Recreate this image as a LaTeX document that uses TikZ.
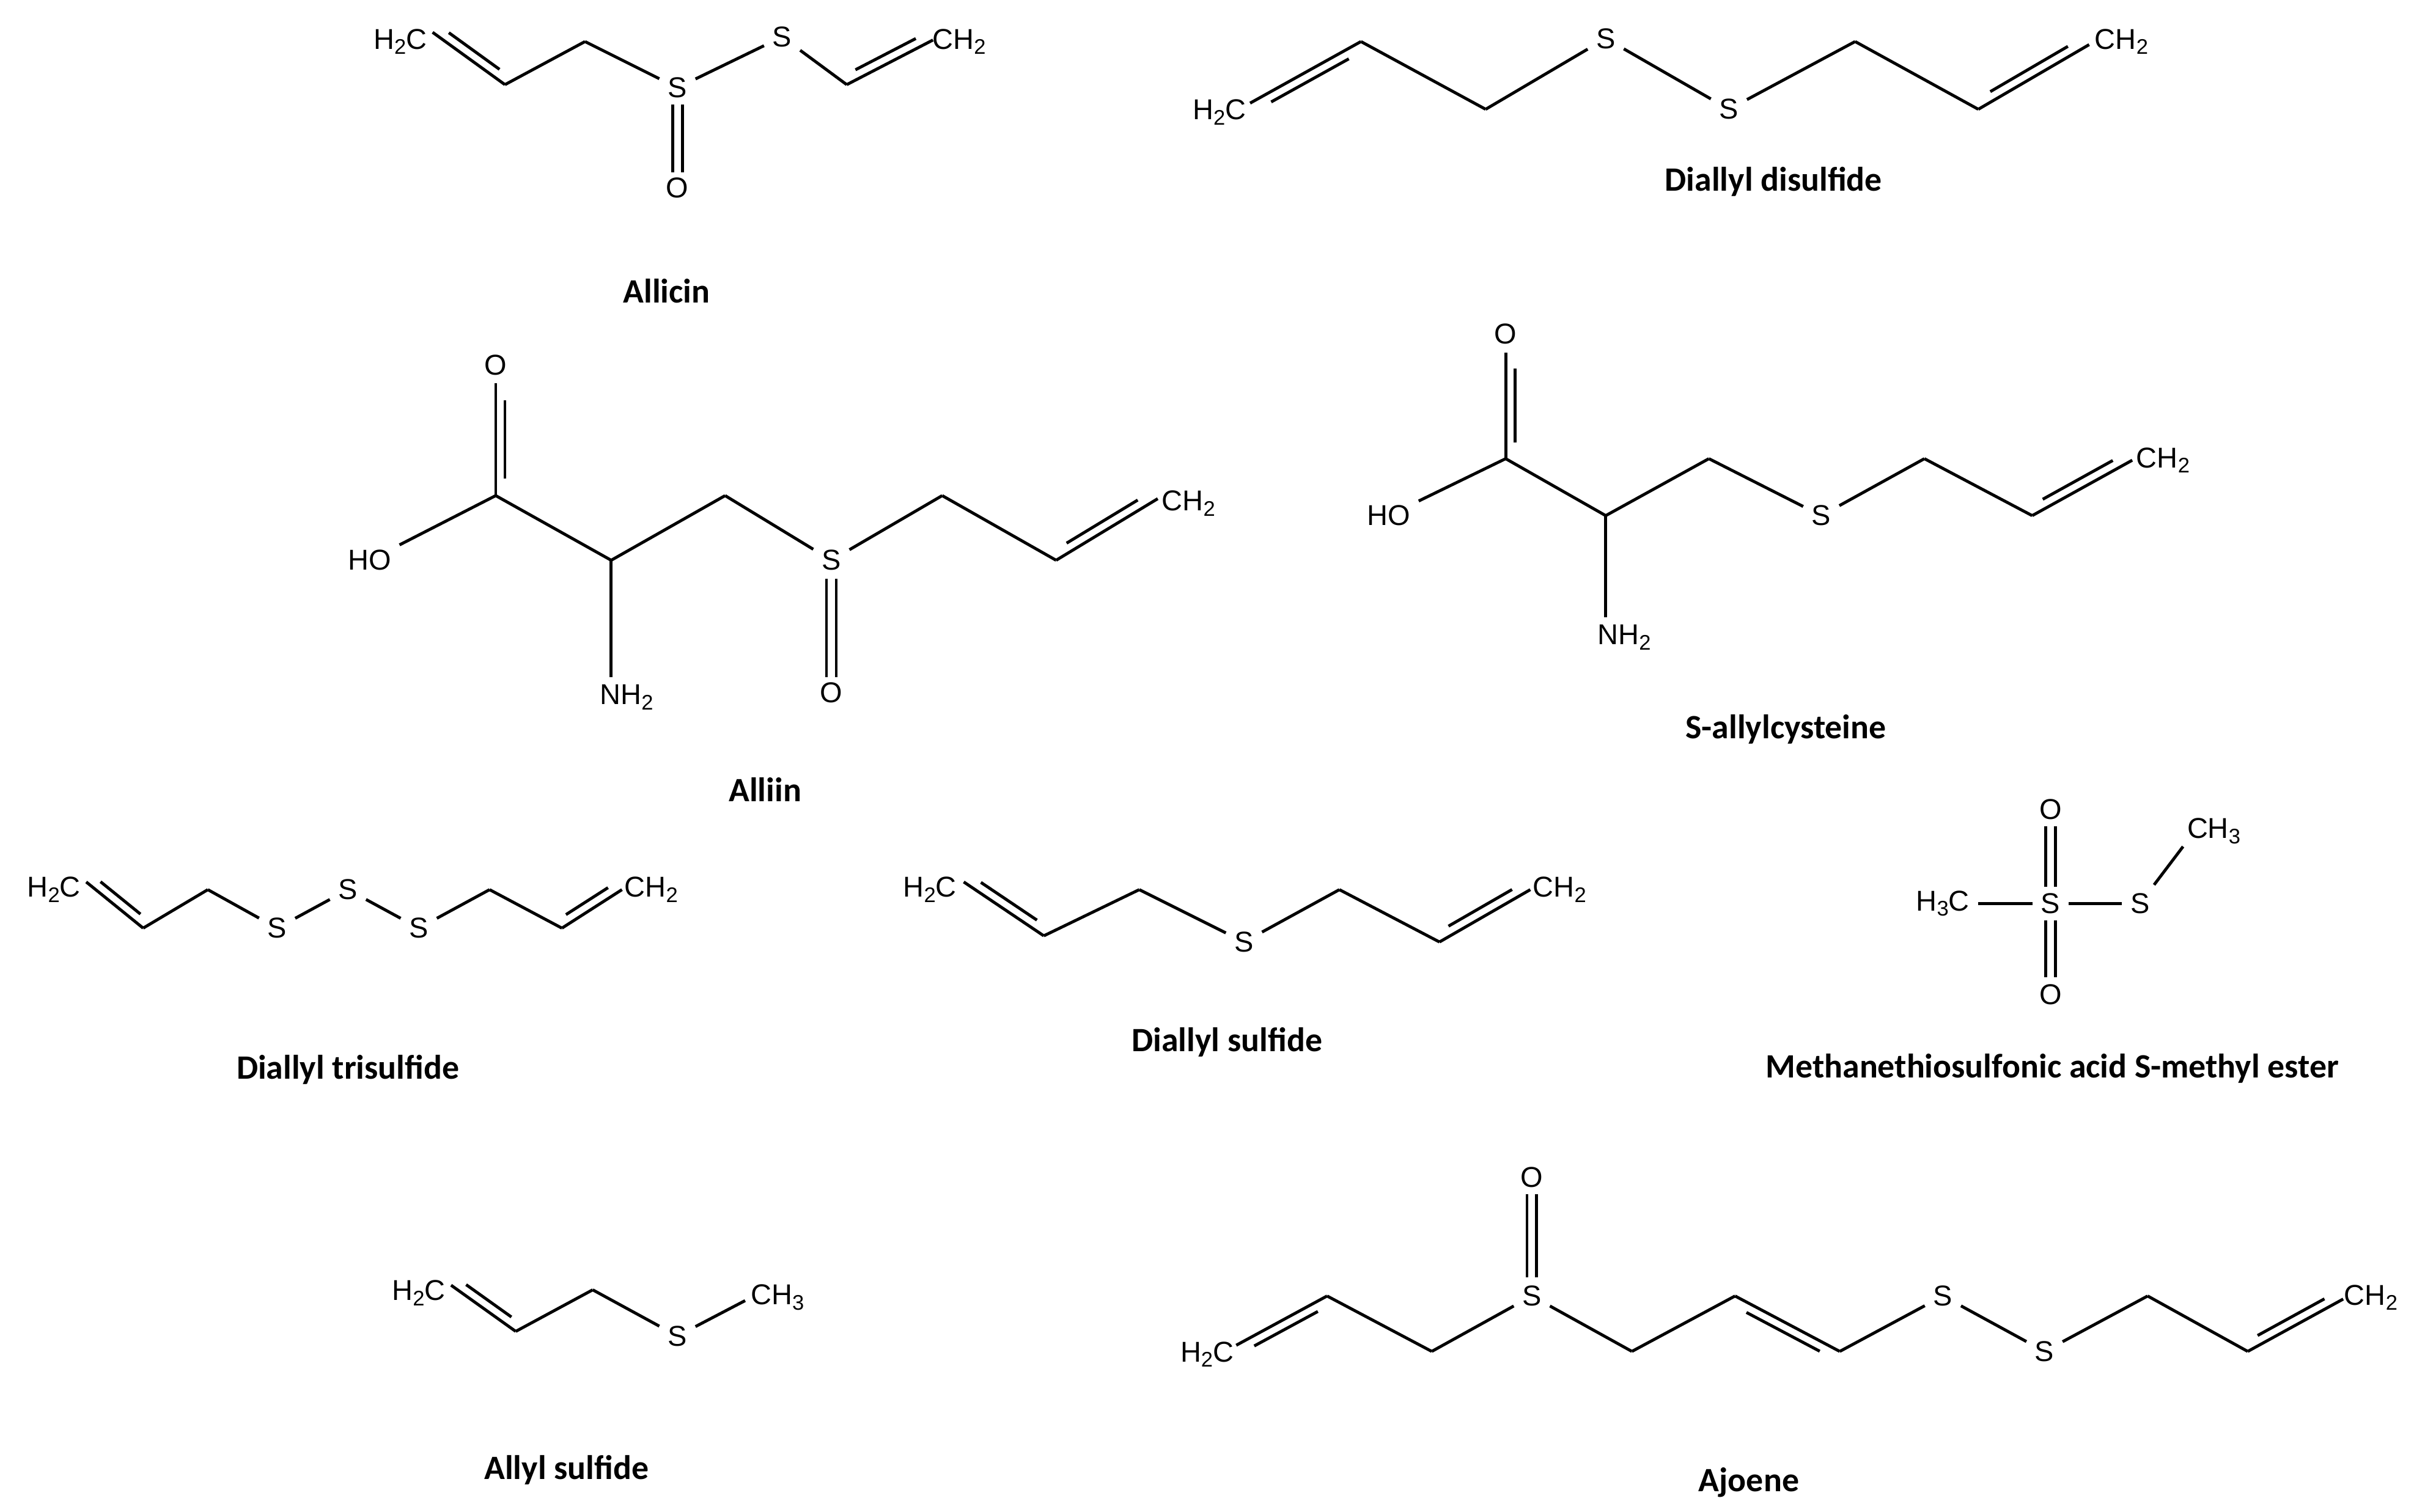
\documentclass[tikz,border=0pt]{standalone}
\usepackage{fontspec}
\setmainfont{Liberation Sans}
\newfontfamily\namefont{Carlito}
\usetikzlibrary{calc}
\newcommand\sbs[1]{\raisebox{-0.35ex}{\fontsize{3.9}{4}\selectfont #1}}
\newcommand\bd[2]{\draw (#1)--(#2);}
\newcommand\db[4]{\draw (#1)--(#2); \draw ($(#1)!0.15!(#2)!1.7pt!#3:(#2)$) -- ($(#2)!0.15!(#1)!1.7pt!#4:(#1)$);}
\newcommand\cd[2]{\draw ($(#1)!0.9pt!90:(#2)$)--($(#2)!0.9pt!-90:(#1)$); \draw ($(#1)!0.9pt!-90:(#2)$)--($(#2)!0.9pt!90:(#1)$);}
\begin{document}
\begin{tikzpicture}[x=0.01cm,y=-0.01cm,line width=0.55pt,
  atom/.style={inner sep=1.3pt,font=\fontsize{5.3}{6}\selectfont},
  cname/.style={inner sep=0pt,font=\namefont\bfseries\fontsize{6.3}{7}\selectfont}]
\useasboundingbox (0,0) rectangle (1568,982);
% Allicin
\node[atom] (a0) at (260,27) {H\sbs{2}C};
\node[atom] (aS1) at (440,57) {S};
\node[atom] (aO) at (440,122) {O};
\node[atom] (aS2) at (508,24) {S};
\node[atom] (aCH) at (623,27) {CH\sbs{2}};
\coordinate (a1) at (281,21); \coordinate (a2) at (328,55); \coordinate (a3) at (380,27);
\coordinate (a4) at (550,55); \coordinate (a5) at (606,26);
\coordinate (aS1b) at (440,68); \coordinate (aOt) at (440,112);
\db{a1}{a2}{90}{-90} \bd{a2}{a3} \bd{a3}{aS1} \cd{aS1b}{aOt} \bd{aS1}{aS2} \bd{aS2}{a4} \db{a4}{a5}{90}{-90}
\node[cname] (an) at (433,189) {Allicin};
% Diallyl disulfide
\node[atom] (b0) at (792,73) {H\sbs{2}C};
\node[atom] (bS1) at (1043,25) {S};
\node[atom] (bS2) at (1123,71) {S};
\node[atom] (bCH) at (1378,27) {CH\sbs{2}};
\coordinate (b1) at (812,67); \coordinate (b2) at (884,27); \coordinate (b3) at (965,71);
\coordinate (b4) at (1205,27); \coordinate (b5) at (1285,71); \coordinate (b6) at (1357,29);
\db{b1}{b2}{-90}{90} \bd{b2}{b3} \bd{b3}{bS1} \bd{bS1}{bS2} \bd{bS2}{b4} \bd{b4}{b5} \db{b5}{b6}{90}{-90}
\node[cname] (bn) at (1152,118) {Diallyl disulfide};
% Alliin
\node[atom] (cO) at (322,237) {O};
\node[atom] (cHO) at (240,364) {HO};
\node[atom] (cN) at (407,453) {NH\sbs{2}};
\node[atom] (cS) at (540,364) {S};
\node[atom] (cO2) at (540,450) {O};
\node[atom] (cCH) at (772,327) {CH\sbs{2}};
\coordinate (c1) at (322,322); \coordinate (cOb) at (322,249); \coordinate (c2) at (397,364);
\coordinate (c3) at (471,322); \coordinate (c4) at (612,322); \coordinate (c5) at (686,364);
\coordinate (c6) at (752,324); \coordinate (cSb) at (540,376); \coordinate (cO2t) at (540,440);
\coordinate (cNt) at (397,440);
\db{c1}{cOb}{-90}{90} \bd{cHO}{c1} \bd{c1}{c2} \bd{c2}{cNt} \bd{c2}{c3} \bd{c3}{cS} \cd{cSb}{cO2t}
\bd{cS}{c4} \bd{c4}{c5} \db{c5}{c6}{90}{-90}
\node[cname] (cn) at (497,513) {Alliin};
% S-allylcysteine
\node[atom] (dO) at (978,217) {O};
\node[atom] (dHO) at (902,335) {HO};
\node[atom] (dN) at (1055,414) {NH\sbs{2}};
\node[atom] (dS) at (1183,335) {S};
\node[atom] (dCH) at (1405,299) {CH\sbs{2}};
\coordinate (d1) at (978,298); \coordinate (dOb) at (978,229); \coordinate (d2) at (1043,335);
\coordinate (dNt) at (1043,401); \coordinate (d3) at (1110,298); \coordinate (d4) at (1250,298);
\coordinate (d5) at (1320,335); \coordinate (d6) at (1385,299);
\db{d1}{dOb}{-90}{90} \bd{dHO}{d1} \bd{d1}{d2} \bd{d2}{dNt} \bd{d2}{d3} \bd{d3}{dS} \bd{dS}{d4} \bd{d4}{d5} \db{d5}{d6}{90}{-90}
\node[cname] (dn) at (1160,474) {S-allylcysteine};
% Diallyl trisulfide
\node[atom] (e0) at (35,578) {H\sbs{2}C};
\node[atom] (eS1) at (180,603) {S};
\node[atom] (eS2) at (226,578) {S};
\node[atom] (eS3) at (272,603) {S};
\node[atom] (eCH) at (423,578) {CH\sbs{2}};
\coordinate (e1) at (56,573); \coordinate (e2) at (93,603); \coordinate (e3) at (135,578);
\coordinate (e4) at (318,578); \coordinate (e5) at (365,603); \coordinate (e6) at (404,578);
\db{e1}{e2}{90}{-90} \bd{e2}{e3} \bd{e3}{eS1} \bd{eS1}{eS2} \bd{eS2}{eS3} \bd{eS3}{e4} \bd{e4}{e5} \db{e5}{e6}{90}{-90}
\node[cname] (en) at (226,695) {Diallyl trisulfide};
% Diallyl sulfide
\node[atom] (f0) at (604,578) {H\sbs{2}C};
\node[atom] (fS) at (808,612) {S};
\node[atom] (fCH) at (1013,578) {CH\sbs{2}};
\coordinate (f1) at (626,573); \coordinate (f2) at (678,608); \coordinate (f3) at (740,578);
\coordinate (f4) at (870,578); \coordinate (f5) at (935,612); \coordinate (f6) at (994,578);
\db{f1}{f2}{90}{-90} \bd{f2}{f3} \bd{f3}{fS} \bd{fS}{f4} \bd{f4}{f5} \db{f5}{f6}{90}{-90}
\node[cname] (fn) at (797,677) {Diallyl sulfide};
% Methanethiosulfonic acid S-methyl ester
\node[atom] (g0) at (1262,587) {H\sbs{3}C};
\node[atom] (gS) at (1332,587) {S};
\node[atom] (gO1) at (1332,526) {O};
\node[atom] (gO2) at (1332,646) {O};
\node[atom] (gS2) at (1390,587) {S};
\node[atom] (gCH) at (1438,540) {CH\sbs{3}};
\coordinate (gSt) at (1332,576); \coordinate (gSb) at (1332,598);
\coordinate (gO1b) at (1332,537); \coordinate (gO2t) at (1332,635);
\coordinate (gC) at (1418,550);
\bd{g0}{gS} \cd{gSt}{gO1b} \cd{gSb}{gO2t} \bd{gS}{gS2} \bd{gS2}{gC}
\node[cname] (gn) at (1333,694) {Methanethiosulfonic acid S-methyl ester};
% Allyl sulfide
\node[atom] (h0) at (272,840) {H\sbs{2}C};
\node[atom] (hS) at (440,868) {S};
\node[atom] (hCH) at (505,843) {CH\sbs{3}};
\coordinate (h1) at (293,835); \coordinate (h2) at (335,865); \coordinate (h3) at (385,838);
\coordinate (h4) at (484,845);
\db{h1}{h2}{90}{-90} \bd{h2}{h3} \bd{h3}{hS} \bd{hS}{h4}
\node[cname] (hn) at (368,955) {Allyl sulfide};
% Ajoene
\node[atom] (k0) at (784,880) {H\sbs{2}C};
\node[atom] (kS1) at (995,842) {S};
\node[atom] (kO) at (995,765) {O};
\node[atom] (kS2) at (1262,842) {S};
\node[atom] (kS3) at (1328,878) {S};
\node[atom] (kCH) at (1540,843) {CH\sbs{2}};
\coordinate (k1) at (803,874); \coordinate (k2) at (862,842); \coordinate (k3) at (930,878);
\coordinate (k4) at (1060,878); \coordinate (k5) at (1127,842); \coordinate (k6) at (1195,878);
\coordinate (k7) at (1395,842); \coordinate (k8) at (1460,878); \coordinate (k9) at (1522,844);
\coordinate (kS1t) at (995,830); \coordinate (kOb) at (995,776);
\db{k1}{k2}{-90}{90} \bd{k2}{k3} \bd{k3}{kS1} \cd{kS1t}{kOb} \bd{kS1}{k4} \bd{k4}{k5} \db{k5}{k6}{-90}{90}
\bd{k6}{kS2} \bd{kS2}{kS3} \bd{kS3}{k7} \bd{k7}{k8} \db{k8}{k9}{90}{-90}
\node[cname] (kn) at (1136,963) {Ajoene};
\end{tikzpicture}
\end{document}
